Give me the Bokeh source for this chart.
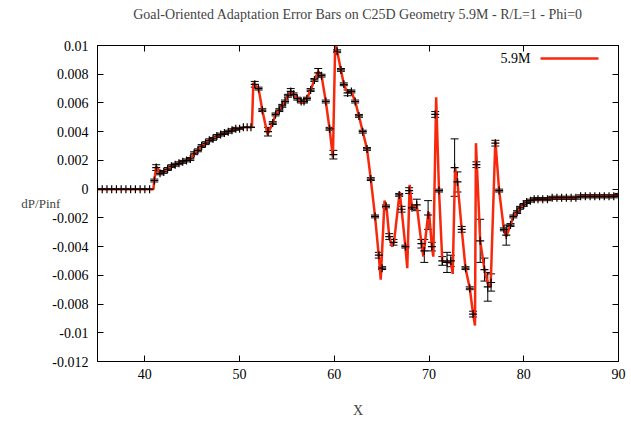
from bokeh.plotting import figure
from bokeh.models import (ColumnDataSource, Whisker, TeeHead, FixedTicker, LinearAxis,
                          Label, Range1d, Arrow, CustomLabelingPolicy)
from bokeh.embed import file_html
from bokeh.resources import INLINE

TITLE = "Goal-Oriented Adaptation Error Bars on C25D Geometry 5.9M - R/L=1 - Phi=0"
SERIES_NAME = "5.9M"
X_LABEL = "X"
Y_LABEL = "dP/Pinf"

x_ticks = [40, 50, 60, 70, 80, 90]
y_ticks = [-0.012, -0.01, -0.008, -0.006, -0.004, -0.002, 0.0, 0.002, 0.004, 0.006, 0.008, 0.01]
y_tick_labels = ["-0.012", "-0.01", "-0.008", "-0.006", "-0.004", "-0.002", "0",
                 "0.002", "0.004", "0.006", "0.008", "0.01"]

# 5.9M curve (red line)
curve_x = [35.0, 35.5, 36.0, 36.5, 37.0, 37.5, 38.0, 38.5, 39.0, 39.5, 40.0, 40.5, 40.9,
           41.0, 41.2, 41.6, 42.0, 42.4, 42.8, 43.2, 43.6, 44.0, 44.4, 44.8, 45.2, 45.6,
           46.0, 46.4, 46.8, 47.2, 47.6, 48.0, 48.4, 48.8, 49.2, 49.6, 50.0, 50.4, 50.8,
           51.3, 51.45, 52.0, 52.4, 52.95, 53.5, 53.8, 54.2, 54.5, 54.8, 55.1, 55.4, 55.7,
           56.1, 56.5, 56.8, 57.1, 57.5, 57.9, 58.3, 58.65, 59.1, 59.5, 59.85, 60.1, 60.3,
           60.7, 61.0, 61.4, 61.8, 62.2, 62.6, 63.0, 63.45, 63.85, 64.3, 64.7, 64.9, 65.3,
           65.5, 65.8, 66.1, 66.3, 66.9, 67.1, 67.5, 67.7, 67.95, 68.2, 68.7, 69.2, 69.4,
           69.9, 70.0, 70.3, 70.45, 70.75, 71.05, 71.4, 71.9, 72.3, 72.5, 72.75, 73.0,
           73.45, 73.85, 74.3, 74.65, 74.85, 74.95, 75.4, 75.85, 76.2, 76.5, 77.0, 77.4,
           77.9, 78.15, 78.6, 78.9, 79.3, 79.6, 80.0, 80.3, 80.7, 81.1, 81.5, 82.0, 82.5,
           83.0, 83.5, 84.0, 84.5, 85.0, 85.5, 86.0, 86.5, 87.0, 87.5, 88.0, 88.5, 89.0,
           89.5, 90.0]
curve_y = [0.0, 0.0, 0.0, 0.0, 0.0, 0.0, 0.0, 0.0, 0.0, 0.0, 0.0, 0.0, 0.0,
           0.0006, 0.0016, 0.0011, 0.0012, 0.0014, 0.0016, 0.0017, 0.0018, 0.0019, 0.0020,
           0.0021, 0.0025, 0.0027, 0.0030, 0.0032, 0.0034, 0.0035, 0.0037, 0.0038, 0.0039,
           0.0040, 0.0041, 0.0042, 0.0042, 0.0043, 0.0043,
           0.0043, 0.0074, 0.0070, 0.0055, 0.0038, 0.0046, 0.0052, 0.0055, 0.0058, 0.0061,
           0.0065, 0.0068, 0.0066, 0.0063, 0.0060, 0.0061, 0.0063, 0.0069, 0.0076, 0.0082,
           0.0079, 0.0061, 0.0042, 0.0022, 0.0103, 0.0096,
           0.0083, 0.0073, 0.0067, 0.0068, 0.0061, 0.0051, 0.0040, 0.0028, 0.0007, -0.0019,
           -0.0047, -0.0063, -0.0008, -0.0012, -0.0033, -0.0040, -0.0037, -0.0002, -0.0014,
           -0.0040, -0.0055, 0.0003, -0.0013, -0.0011, -0.0038, -0.0047,
           -0.0018, -0.0016, -0.0040, -0.0047, 0.0064, -0.0001, -0.0050, -0.0051, -0.0051,
           -0.0059, 0.0015, 0.0005, -0.0028, -0.0055, -0.0069, -0.0087, -0.0095, 0.0032,
           -0.0036, -0.0056, -0.0066, -0.0068, 0.0034, -0.0001,
           -0.0028, -0.0033, -0.0025, -0.0019, -0.0016, -0.0013, -0.0011, -0.0009, -0.0008,
           -0.0007, -0.0007, -0.0007, -0.0007, -0.0006, -0.0006, -0.0006, -0.0006, -0.0006,
           -0.0006, -0.0005, -0.0005, -0.0005, -0.0005, -0.0005, -0.0005, -0.0005, -0.0005,
           -0.0004]

# adaptation points with error bars
pt_x = [35.0, 35.5, 36.0, 36.5, 37.0, 37.5, 38.0, 38.5, 39.0, 39.5, 40.0, 40.5,
        41.0, 41.2, 41.6, 42.0, 42.4, 42.8, 43.2, 43.6, 44.0, 44.4, 44.8, 45.2, 45.6,
        46.0, 46.4, 46.8, 47.2, 47.6, 48.0, 48.4, 48.8, 49.2, 49.6, 50.0, 50.4, 50.8, 51.2,
        51.6, 52.0, 52.4, 53.0, 53.5, 53.8, 54.2, 54.5, 54.8, 55.1, 55.4, 55.7, 56.1, 56.5,
        56.8, 57.1, 57.5, 57.9, 58.3, 58.65, 59.1, 59.5, 59.9, 60.3, 60.7, 61.0, 61.4,
        61.8, 62.2, 62.6, 63.0, 63.45, 63.85, 64.3, 64.7, 65.05, 65.45, 65.8, 66.25,
        66.85, 67.1, 67.5, 67.9, 68.2, 68.7, 69.2, 69.5, 69.9, 70.3, 70.65, 71.05, 71.4,
        71.9, 72.3, 72.7, 73.0, 73.45, 73.85, 74.3, 74.65, 75.0, 75.4, 75.85, 76.2, 76.55,
        77.0, 77.4, 77.9, 78.15, 78.6, 78.9, 79.3, 79.6, 80.0, 80.3, 80.7, 81.1, 81.5,
        82.0, 82.5, 83.0, 83.5, 84.0, 84.5, 85.0, 85.5, 86.0, 86.5, 87.0, 87.5, 88.0,
        88.5, 89.0, 89.5, 90.0]
pt_y = [0.0, 0.0, 0.0, 0.0, 0.0, 0.0, 0.0, 0.0, 0.0, 0.0, 0.0, 0.0,
        0.0006, 0.0015, 0.0011, 0.0012, 0.0014, 0.0016, 0.0017, 0.0018, 0.0019, 0.0020,
        0.0021, 0.0025, 0.0027, 0.0030, 0.0032, 0.0034, 0.0035, 0.0037, 0.0038, 0.0039,
        0.0040, 0.0041, 0.0042, 0.0042, 0.0043, 0.0043, 0.0043,
        0.0073, 0.0070, 0.0055, 0.0040, 0.0046, 0.0052, 0.0055, 0.0058, 0.0061, 0.0065,
        0.0068, 0.0066, 0.0063, 0.0061, 0.0061, 0.0063, 0.0069, 0.0076, 0.0081, 0.0079,
        0.0061, 0.0042, 0.0024, 0.0096, 0.0083, 0.0073, 0.0067,
        0.0068, 0.0061, 0.0051, 0.0040, 0.0028, 0.0007, -0.0019, -0.0046, -0.0055,
        -0.0012, -0.0033, -0.0037, -0.0004, -0.0014, -0.0040, -0.0001, -0.0013, -0.0011,
        -0.0038, -0.0043, -0.0018, -0.0040, 0.0052, -0.0001, -0.0050,
        -0.0051, -0.0050, 0.0015, 0.0005, -0.0028, -0.0055, -0.0069, -0.0087, 0.0017,
        -0.0036, -0.0056, -0.0068, -0.0065,
        0.0032, -0.0001, -0.0028, -0.0032, -0.0025, -0.0019, -0.0016, -0.0013, -0.0011,
        -0.0009, -0.0008, -0.0007, -0.0007,
        -0.0007, -0.0007, -0.0006, -0.0006, -0.0006, -0.0006, -0.0006, -0.0006, -0.0005,
        -0.0005, -0.0005, -0.0005, -0.0005, -0.0005, -0.0005, -0.0005, -0.0004]
pt_err = [0.0, 0.0, 0.0, 0.0, 0.0, 0.0, 0.0, 0.0, 0.0, 0.0, 0.0, 0.0,
          0.0001, 0.0002, 0.0001, 0.0001, 0.0001, 0.0001, 0.0001, 0.0001, 0.0001, 0.0001,
          0.0001, 0.0001, 0.0001, 0.0001, 0.0001, 0.0001, 0.0001, 0.0001, 0.0001, 0.0001,
          0.0001, 0.0001, 0.0001, 0.0, 0.0, 0.0, 0.0,
          0.0002, 0.0001, 0.0001, 0.0003, 0.0001, 0.0001, 0.0001, 0.0001, 0.0001, 0.0001,
          0.0002, 0.0001, 0.0001, 0.0001, 0.0001, 0.0001, 0.0001, 0.0001, 0.0003, 0.0001,
          0.0001, 0.0001, 0.0003, 0.0001, 0.0001, 0.0001, 0.0002,
          0.0001, 0.0001, 0.0001, 0.0001, 0.0001, 0.0001, 0.0001, 0.0002, 0.0001,
          0.0001, 0.0002, 0.0002, 0.0001, 0.0002, 0.0001, 0.0002, 0.0001, 0.0004,
          0.0003, 0.0008, 0.0010, 0.0003, 0.0002, 0.0001, 0.0003,
          0.0007, 0.0004, 0.0020, 0.0007, 0.0002, 0.0001, 0.0001, 0.0002, 0.0002,
          0.0015, 0.0008, 0.0010, 0.0006,
          0.0002, 0.0001, 0.0001, 0.0007, 0.0001, 0.0001, 0.0001, 0.0001, 0.0001,
          0.0001, 0.0001, 0.0001, 0.0001,
          0.0001, 0.0001, 0.0001, 0.0001, 0.0001, 0.0001, 0.0001, 0.0001, 0.0001,
          0.0001, 0.0001, 0.0001, 0.0001, 0.0001, 0.0001, 0.0001, 0.0001]

FONT = "Liberation Serif"
FS = "14px"
RED = "#f7280c"

curve_src = ColumnDataSource(dict(x=curve_x, y=curve_y))
pt_src = ColumnDataSource(dict(
    x=pt_x, y=pt_y,
    lower=[y - e for y, e in zip(pt_y, pt_err)],
    upper=[y + e for y, e in zip(pt_y, pt_err)],
))

p = figure(width=628, height=420, x_range=Range1d(35, 90), y_range=Range1d(-0.012, 0.01),
           output_backend="svg", toolbar_location=None,
           min_border_left=97, min_border_right=10, min_border_top=45, min_border_bottom=56)
p.background_fill_color = "white"
p.border_fill_color = "white"
p.outline_line_color = "black"
p.outline_line_width = 1
p.xgrid.visible = False
p.ygrid.visible = False

for ax in (p.xaxis[0], p.yaxis[0]):
    ax.major_tick_in = 6
    ax.major_tick_out = 0
    ax.minor_tick_line_color = None
    ax.axis_line_color = "black"
    ax.major_tick_line_color = "black"
    ax.major_label_text_font = FONT
    ax.major_label_text_font_size = FS
    ax.major_label_text_color = "black"

p.xaxis.ticker = FixedTicker(ticks=x_ticks)
p.xaxis.major_label_standoff = 7
p.xaxis.axis_label = X_LABEL
p.xaxis.axis_label_text_font = FONT
p.xaxis.axis_label_text_font_size = FS
p.xaxis.axis_label_text_font_style = "normal"
p.xaxis.axis_label_standoff = 21

p.yaxis.ticker = FixedTicker(ticks=y_ticks)
p.yaxis.major_label_overrides = dict(zip(y_ticks, y_tick_labels))
p.yaxis.major_label_standoff = 9
p.yaxis.axis_label = Y_LABEL
p.yaxis.axis_label_orientation = "horizontal"
p.yaxis.axis_label_standoff = -11
p.yaxis.axis_label_text_font = FONT
p.yaxis.axis_label_text_font_size = "13px"
p.yaxis.axis_label_text_font_style = "normal"

hide_code = """
for (const i of Array.from(indices)) indices.unset(i)
return indices
"""

# mirrored tick marks on the top (carrying the chart title) and right borders
top = LinearAxis(ticker=FixedTicker(ticks=x_ticks),
                 major_label_policy=CustomLabelingPolicy(code=hide_code),
                 major_label_text_font_size="0px",
                 major_tick_in=6, major_tick_out=0, minor_tick_line_color=None,
                 major_label_standoff=0, axis_label=TITLE, axis_label_standoff=24,
                 axis_label_text_font=FONT, axis_label_text_font_size=FS,
                 axis_label_text_font_style="normal")
right = LinearAxis(ticker=FixedTicker(ticks=y_ticks),
                   major_label_policy=CustomLabelingPolicy(code=hide_code),
                   major_label_text_font_size="0px",
                   major_tick_in=6, major_tick_out=0, minor_tick_line_color=None,
                   major_label_standoff=0)
p.add_layout(top, "above")
p.add_layout(right, "right")

line_r = p.line("x", "y", source=curve_src, line_color=RED, line_width=2.5)

p.add_layout(Whisker(base="x", lower="lower", upper="upper", source=pt_src,
                     line_color="black", line_width=1,
                     lower_head=TeeHead(size=8, line_color="black", line_width=1),
                     upper_head=TeeHead(size=8, line_color="black", line_width=1)))
p.scatter("x", "y", source=pt_src, marker="cross", size=8, line_color="black",
          line_width=1.2)

# legend: text on the left, red line sample on the right (gnuplot style)
p.add_layout(Label(x=433, y=303, x_units="screen", y_units="screen", text=SERIES_NAME,
                   text_align="right", text_baseline="middle", text_font=FONT,
                   text_font_size=FS, text_color="black"))
p.add_layout(Arrow(start=None, end=None, x_start=443, y_start=303, x_end=501, y_end=303,
                   start_units="screen", end_units="screen",
                   line_color=RED, line_width=2.5))

open("out.html", "w").write(file_html(p, INLINE))
